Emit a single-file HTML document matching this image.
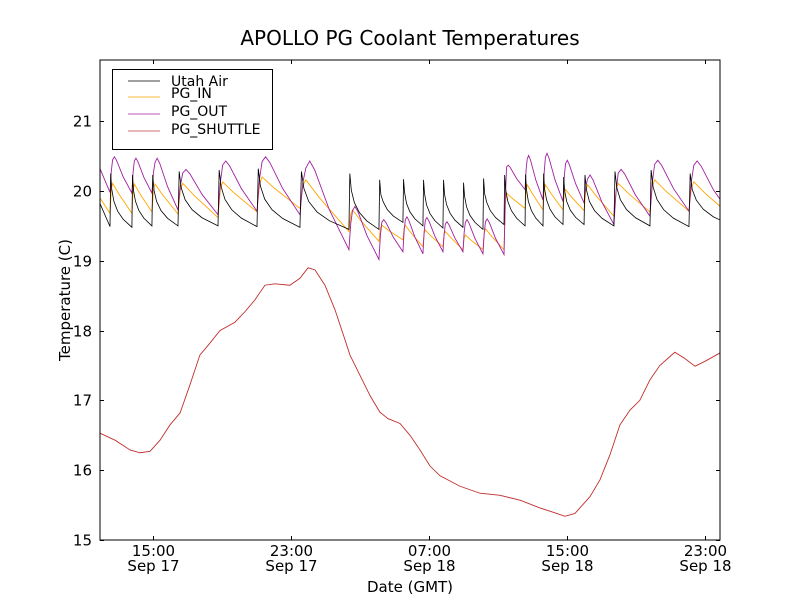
<!DOCTYPE html>
<html><head><meta charset="utf-8"><style>
body{margin:0;background:#fff}
svg text{font-family:"DejaVu Sans","Liberation Sans",sans-serif;fill:#000}
</style></head><body>
<svg id="chart" width="800" height="600" viewBox="0 0 800 600" xmlns="http://www.w3.org/2000/svg">
<rect width="800" height="600" fill="#fff"/>
<text x="410" y="45" font-size="20" text-anchor="middle">APOLLO PG Coolant Temperatures</text>
<g id="plot"></g>
<rect x="100" y="60" width="620" height="480" fill="none" stroke="#000" stroke-width="1"/>
<g id="ticks"></g>
<text transform="translate(70,300) rotate(-90)" font-size="15" text-anchor="middle">Temperature (C)</text>
<text x="410" y="592" font-size="15" text-anchor="middle">Date (GMT)</text>
<g>
<rect x="112.5" y="69.5" width="160" height="80" fill="#fff" stroke="#000" stroke-width="1"/>
<line x1="128" y1="81" x2="160" y2="81" stroke="#000" stroke-width="0.8"/><text x="171" y="86" font-size="14">Utah Air</text>
<line x1="128" y1="97" x2="160" y2="97" stroke="#ffa500" stroke-width="0.8"/><text x="171" y="98" font-size="14">PG_IN</text>
<line x1="128" y1="114" x2="160" y2="114" stroke="#a020a0" stroke-width="0.8"/><text x="171" y="116" font-size="14">PG_OUT</text>
<line x1="128" y1="131" x2="160" y2="131" stroke="#c04040" stroke-width="0.8"/><text x="171" y="134" font-size="14">PG_SHUTTLE</text>
</g>
</svg>
<script>
// hours since 00:00 Sep 17
const cycleStarts=[12.51,13.78,14.94,16.45,18.77,21.03,23.52,26.36,28.10,29.49,30.65,31.81,32.97,34.13,35.35,36.57,37.61,38.77,39.99,41.72,43.81,46.07];
const airStart=19.82, airFirstTrough=19.49;
const airPeaks=[20.25,20.23,20.23,20.28,20.30,20.32,20.28,20.25,20.16,20.17,20.16,20.16,20.12,20.18,20.23,20.24,20.25,20.20,20.23,20.28,20.30,20.25];
const airTroughs=[19.48,19.50,19.50,19.50,19.49,19.48,19.45,19.45,19.55,19.50,19.47,19.48,19.45,19.52,19.50,19.50,19.52,19.52,19.50,19.50,19.49,19.52];
const outStart=20.32, outFirstTrough=19.98;
const outPeaks=[20.49,20.47,20.47,20.31,20.43,20.49,20.43,19.78,19.59,19.63,19.62,19.56,19.59,19.60,20.37,20.51,20.54,20.44,20.23,20.31,20.44,20.43];
const outTroughs=[19.97,19.97,19.73,19.66,19.71,19.66,19.16,19.02,19.13,19.10,19.13,19.13,19.10,19.09,20.02,19.87,19.85,19.83,19.52,19.64,19.71,19.68];
const inStart=19.90, inFirstTrough=19.68;
const inPeaks=[20.11,20.10,20.10,20.11,20.13,20.20,20.16,19.73,19.51,19.51,19.44,19.42,19.37,19.46,19.97,20.09,20.09,20.02,20.09,20.11,20.16,20.13];
const inTroughs=[19.68,19.70,19.67,19.62,19.70,19.75,19.42,19.28,19.30,19.20,19.20,19.16,19.16,19.16,19.75,19.73,19.73,19.72,19.64,19.70,19.71,19.66];
const shuttleTimes=[11.93,12.80,13.67,14.25,14.83,15.41,15.99,16.57,17.14,17.72,18.30,18.88,19.75,20.33,20.91,21.49,22.07,22.94,23.52,23.99,24.39,24.97,25.55,26.13,26.42,27.00,27.58,28.16,28.62,29.32,29.90,30.48,31.06,31.64,32.80,33.96,35.12,36.28,37.43,38.30,38.88,39.46,40.33,40.91,41.49,42.07,42.65,43.22,43.80,44.38,45.25,45.83,46.42,47.00,47.87];
const shuttleValues=[16.53,16.43,16.29,16.25,16.27,16.43,16.65,16.82,17.22,17.65,17.82,18.00,18.12,18.27,18.44,18.65,18.67,18.65,18.75,18.90,18.87,18.65,18.30,17.87,17.65,17.36,17.07,16.83,16.74,16.67,16.50,16.29,16.06,15.92,15.77,15.67,15.64,15.57,15.46,15.39,15.34,15.38,15.62,15.86,16.22,16.65,16.86,17.00,17.29,17.50,17.69,17.60,17.49,17.56,17.68];
const yTicks=[15,16,17,18,19,20,21];
const xTicks=[15,23,31,39,47];
const xTickTimes=["15:00","23:00","07:00","15:00","23:00"];
const xTickDates=["Sep 17","Sep 17","Sep 18","Sep 18","Sep 18"];

const X0=100,X1=720,Y0=60,Y1=540,HMIN=11.93,HMAX=47.87,VMIN=15,VMAX=21.877;
const sx=h=>X0+(h-HMIN)/(HMAX-HMIN)*(X1-X0);
const sy=v=>Y1-(v-VMIN)/(VMAX-VMIN)*(Y1-Y0);
const NS='http://www.w3.org/2000/svg';
const plot=document.getElementById('plot');
function addPath(pts,color,name,w){
  const p=document.createElementNS(NS,'path');
  p.setAttribute('d',pts.map((q,i)=>(i?'L':'M')+sx(q[0]).toFixed(2)+' '+sy(q[1]).toFixed(2)).join(''));
  p.setAttribute('fill','none');p.setAttribute('stroke',color);p.setAttribute('stroke-width',w||0.9);
  
  
  plot.appendChild(p);
}
const profiles={
  air:[[0,0],[0.03,1],[0.08,0.7],[0.18,0.48],[0.35,0.3],[0.6,0.15],[1,0]],
  out:[[0,0],[0.06,0.6],[0.12,0.92],[0.2,1],[0.3,0.9],[0.6,0.45],[1,0]],
  pin:[[0,0],[0.06,0.8],[0.12,1],[0.4,0.65],[1,0]]
};
function sawtooth(start,firstTrough,peaks,troughs,prof){
  const pts=[[HMIN,start],[cycleStarts[0],firstTrough]];
  let prevT=firstTrough;
  for(let i=0;i<cycleStarts.length;i++){
    const t0=cycleStarts[i], t1=i+1<cycleStarts.length?cycleStarts[i+1]:HMAX+(cycleStarts[i]-cycleStarts[i-1])*0.25;
    const P=t1-t0, pk=peaks[i], tr=troughs[i];
    prof.forEach((f,k)=>{
      if(k===0) return;
      const t=t0+f[0]*P;
      const base = f[0]<0.12 && f[1]<1 && k<=2 ? prevT : tr;
      const v = k===prof.length-1 ? tr : base+(pk-base)*f[1];
      if(t<=HMAX+0.001) pts.push([t,v]);
      else{const last=pts[pts.length-1];const r=(HMAX-last[0])/(t-last[0]);pts.push([HMAX,last[1]+(v-last[1])*r]);}
    });
    prevT=tr;
    if(pts[pts.length-1][0]>=HMAX) break;
  }
  return pts;
}
addPath(shuttleTimes.map((t,i)=>[t,shuttleValues[i]]),'#c03030','series-pg-shuttle',0.9);
addPath(sawtooth(inStart,inFirstTrough,inPeaks,inTroughs,profiles.pin),'#ffa500','series-pg-in',0.9);
addPath(sawtooth(outStart,outFirstTrough,outPeaks,outTroughs,profiles.out),'#a020a0','series-pg-out',0.9);
addPath(sawtooth(airStart,airFirstTrough,airPeaks,airTroughs,profiles.air),'#000','series-utah-air',0.8);

const tk=document.getElementById('ticks');
function line(x1,y1,x2,y2,name){const l=document.createElementNS(NS,'line');l.setAttribute('x1',x1);l.setAttribute('y1',y1);l.setAttribute('x2',x2);l.setAttribute('y2',y2);l.setAttribute('stroke','#000');l.setAttribute('stroke-width','1');


tk.appendChild(l);}
function text(x,y,s,anchor,name){const t=document.createElementNS(NS,'text');t.setAttribute('x',x);t.setAttribute('y',y);t.setAttribute('font-size','15');t.setAttribute('text-anchor',anchor);t.textContent=s;


tk.appendChild(t);}
yTicks.forEach(v=>{const y=Math.round(sy(v))+0.5;line(100,y,104,y,'y-tick');line(716,y,720,y,'y-tick');text(92,y+5,String(v),'end','y-tick-label');});
xTicks.forEach((h,i)=>{const x=Math.round(sx(h))+0.5;line(x,540,x,536,'x-tick');line(x,60,x,64,'x-tick');text(x,556,xTickTimes[i],'middle','x-tick-label');text(x,571,xTickDates[i],'middle','x-tick-date-label');});
</script>
</body></html>
